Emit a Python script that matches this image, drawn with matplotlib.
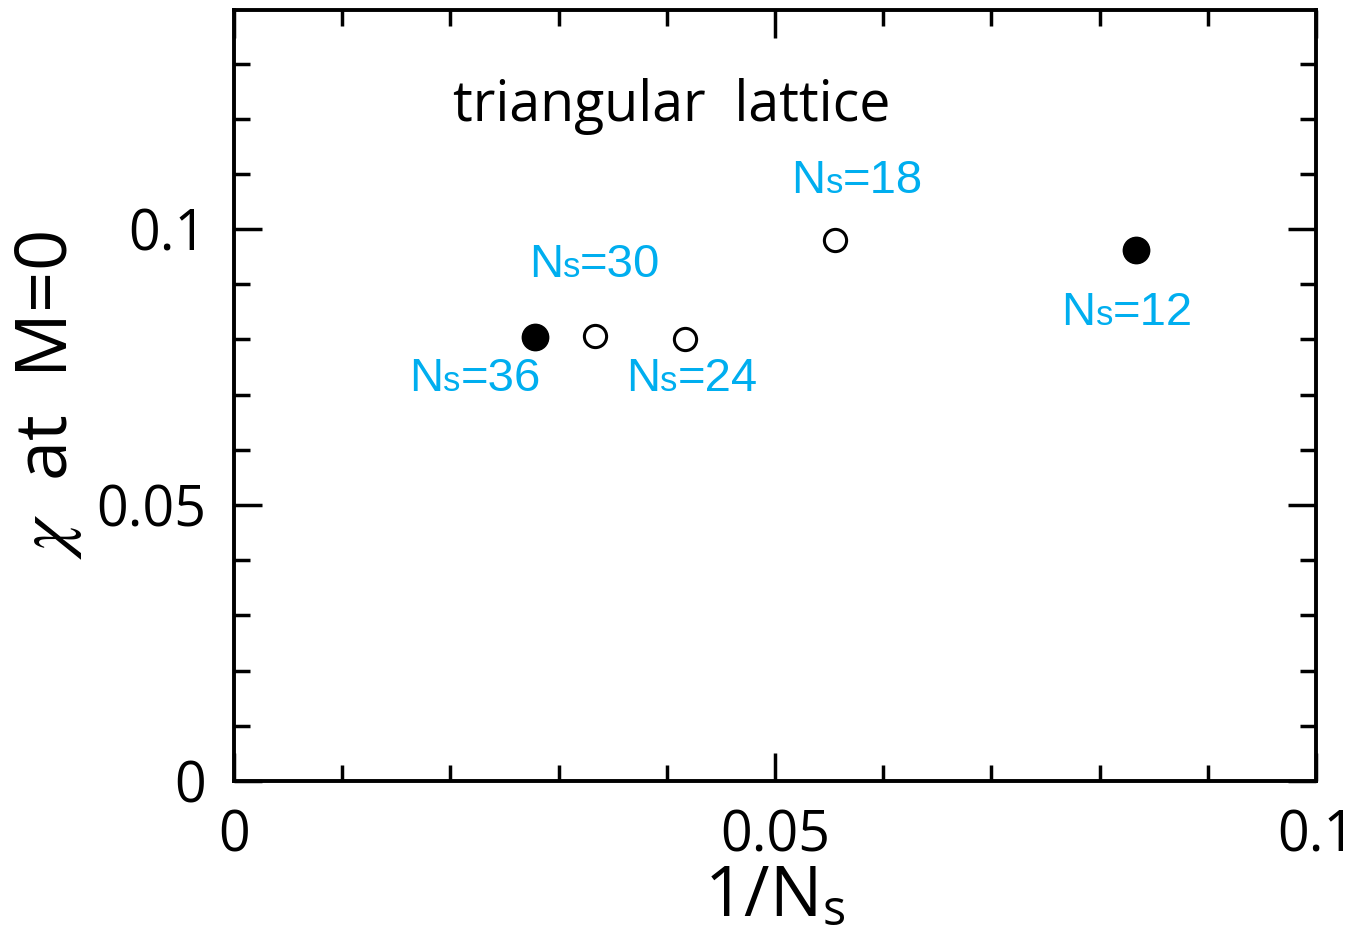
import matplotlib
matplotlib.use("Agg")
import matplotlib.pyplot as plt
from matplotlib.offsetbox import TextArea, HPacker, AnnotationBbox
from matplotlib.ticker import MultipleLocator, FixedLocator

plt.rcParams["mathtext.fontset"] = "stix"

# Cluster sizes and susceptibility at M=0
sizes = [12, 18, 24, 30, 36]
chi_values = [0.0963, 0.0981, 0.0801, 0.0806, 0.0804]
filled = [True, False, False, False, True]
size_labels = ["12", "18", "24", "30", "36"]
# label offsets from each marker (points)
label_dx = [-6, 16, 5, 0, -43]
label_dy = [-46, 42, -29, 51, -30]

x_ticks = [0, 0.05, 0.1]
x_tick_labels = ["0", "0.05", "0.1"]
y_ticks = [0, 0.05, 0.1]
y_tick_labels = ["0", "0.05", "0.1"]

BLUE = "#00AEEF"
TICK_FONT = "Open Sans"
LABEL_FONT = "Liberation Sans"

fig = plt.figure(figsize=(13.53, 9.27), dpi=100)
ax = fig.add_axes([234 / 1353, 1 - 781 / 927, (1316 - 234) / 1353, (781 - 10) / 927])

inv_n = [1.0 / n for n in sizes]
for x, y, f in zip(inv_n, chi_values, filled):
    if f:
        ax.plot(x, y, "o", ms=19, mfc="black", mec="black", mew=1, zorder=3)
    else:
        ax.plot(x, y, "o", ms=16, mfc="white", mec="black", mew=2.2, zorder=3)

for x, y, lab, dx, dy in zip(inv_n, chi_values, size_labels, label_dx, label_dy):
    parts = [
        TextArea("N", textprops=dict(color=BLUE, fontsize=34, family=LABEL_FONT)),
        TextArea("s", textprops=dict(color=BLUE, fontsize=25, family=LABEL_FONT)),
        TextArea("=" + lab, textprops=dict(color=BLUE, fontsize=34, family=LABEL_FONT)),
    ]
    box = HPacker(children=parts, align="baseline", pad=0, sep=0)
    ab = AnnotationBbox(box, (x, y), xybox=(dx, dy), xycoords="data",
                        boxcoords="offset points", box_alignment=(0.5, 0.5),
                        frameon=False, pad=0)
    ax.add_artist(ab)

ax.set_xlim(0, 0.1)
ax.set_ylim(0, 0.1397)

ax.xaxis.set_major_locator(FixedLocator(x_ticks))
ax.xaxis.set_minor_locator(MultipleLocator(0.01))
ax.yaxis.set_major_locator(FixedLocator(y_ticks))
ax.yaxis.set_minor_locator(MultipleLocator(0.01))
ax.set_xticklabels(x_tick_labels, family=TICK_FONT, fontsize=40)
ax.set_yticklabels(y_tick_labels, family=TICK_FONT, fontsize=40)

ax.tick_params(which="both", direction="in", top=True, right=True, width=2.5, color="black")
ax.tick_params(which="major", length=20)
ax.tick_params(which="minor", length=11.5)
ax.tick_params(axis="x", which="major", pad=20)
ax.tick_params(axis="y", which="major", pad=20)

for sp in ax.spines.values():
    sp.set_linewidth(2.8)

ax.set_xlabel(r"1/N$_\mathregular{s}$", family=TICK_FONT, fontsize=50, va="baseline")
ax.xaxis.set_label_coords(0.5, (781 - 916) / 771)
ax.set_ylabel(r"$\chi$  at  M=0", family=TICK_FONT, fontsize=52, va="baseline")
ax.yaxis.set_label_coords((67 - 234) / 1082, 0.50)

ax.text((453 - 234) / 1082, (781 - 121) / 771, "triangular  lattice", transform=ax.transAxes,
        family=TICK_FONT, fontsize=40, ha="left", va="baseline", color="black")

fig.savefig("out.png", dpi=100)
